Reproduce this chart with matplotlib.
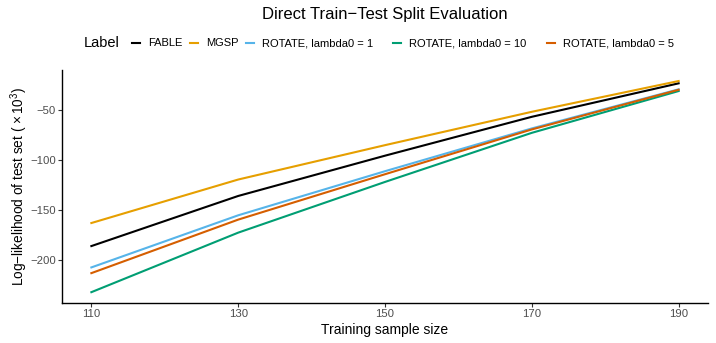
import matplotlib
matplotlib.use("Agg")
import matplotlib.pyplot as plt
from matplotlib.lines import Line2D

plt.rcParams['font.family'] = ['Liberation Sans', 'DejaVu Sans']
plt.rcParams['mathtext.fontset'] = 'custom'
plt.rcParams['mathtext.rm'] = 'Liberation Sans'
plt.rcParams['mathtext.it'] = 'Liberation Sans:italic'
plt.rcParams['axes.unicode_minus'] = True

sample_size = [110, 130, 150, 170, 190]
fable = [-185.7, -135.7, -95.5, -56.7, -23.3]
mgsp = [-162.7, -119.3, -85.0, -51.7, -21.0]
rotate_1 = [-207.0, -155.0, -111.0, -68.3, -29.3]
rotate_10 = [-231.7, -172.3, -121.7, -72.7, -31.0]
rotate_5 = [-212.7, -159.3, -114.0, -69.3, -29.7]

labels = ["FABLE", "MGSP", "ROTATE, lambda0 = 1", "ROTATE, lambda0 = 10", "ROTATE, lambda0 = 5"]
series = [fable, mgsp, rotate_1, rotate_10, rotate_5]
colors = ["#000000", "#E69F00", "#56B4E9", "#009E73", "#D55E00"]

W, H = 716, 343
fig = plt.figure(figsize=(W / 100, H / 100), dpi=100)
ax = fig.add_axes([62 / W, 40 / H, 646 / W, 233 / H])

for y, lab, c in zip(series, labels, colors):
    ax.plot(sample_size, y, color=c, linewidth=1.5, label=lab)

ax.set_xlim(106, 194)
ax.set_ylim(-242.5, -10)
ax.set_xticks(sample_size)
ax.set_yticks([-200, -150, -100, -50])
ax.set_yticklabels(["\u2212200", "\u2212150", "\u2212100", "\u221250"])

for side in ["top", "right"]:
    ax.spines[side].set_visible(False)
for side in ["left", "bottom"]:
    ax.spines[side].set_linewidth(1.0)
ax.tick_params(axis="both", labelsize=8.2, labelcolor="#4D4D4D", length=3, width=0.8,
               color="#333333", pad=1.5)

ax.set_xlabel("Training sample size", fontsize=10)
ax.xaxis.set_label_coords(0.5, (303 - 330) / 233)
ax.xaxis.label.set_va("center")
ax.set_ylabel("Log\u2212likelihood of test set ( $\\times\\,10^{3}$)", fontsize=9.8)
ax.yaxis.set_label_coords((19 - 62) / 646, 0.5)
ax.yaxis.label.set_va("center")

fig.text(385 / W, 1 - 14 / H, "Direct Train\u2212Test Split Evaluation", ha="center", va="center", fontsize=12)

# legend, laid out in one row like ggplot's top legend
ly = 1 - 43 / H
fig.text(84 / W, ly, "Label", ha="left", va="center", fontsize=10.5)
key_x = [132, 190, 246, 393, 547]
for kx, lab, c in zip(key_x, labels, colors):
    fig.add_artist(Line2D([kx / W, (kx + 8) / W], [ly, ly], color=c, linewidth=1.5,
                          transform=fig.transFigure))
    fig.text((kx + 16) / W, ly, lab, ha="left", va="center", fontsize=8)

fig.savefig("out.png", dpi=100)
